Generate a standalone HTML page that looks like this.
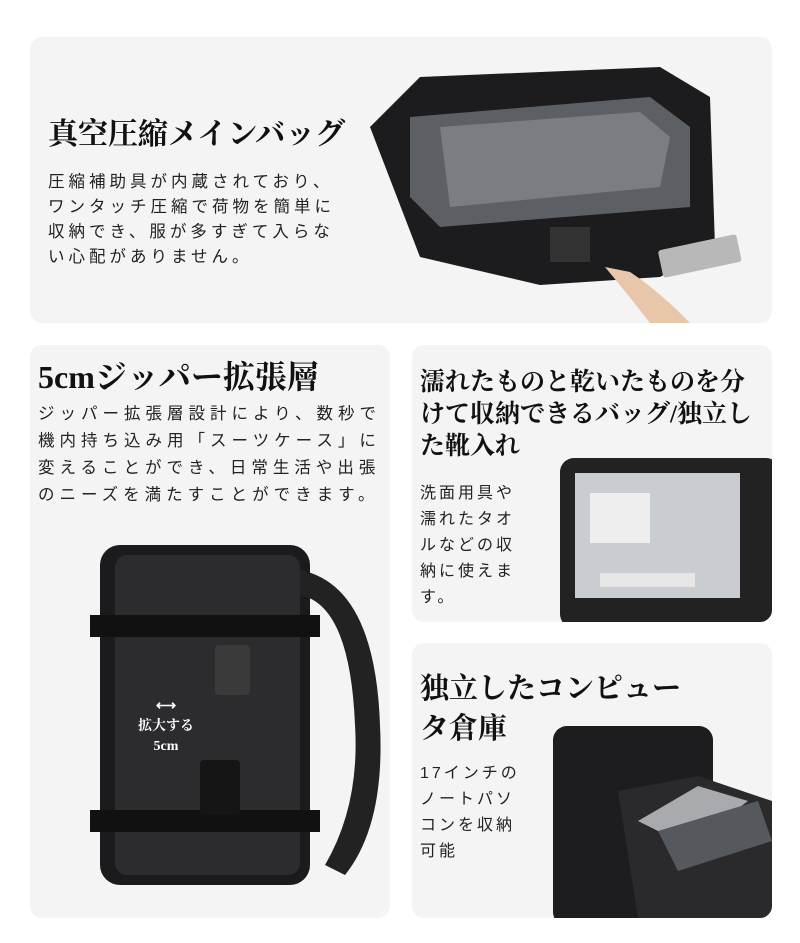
<!DOCTYPE html>
<html><head><meta charset="utf-8"><style>
*{margin:0;padding:0;box-sizing:border-box}
body{width:800px;height:943px;background:#fff;position:relative;overflow:hidden;font-family:"Liberation Serif","Noto Serif CJK SC","Noto Sans CJK JP",serif;color:#111}
.card{position:absolute;background:#f4f4f4;border-radius:12px;overflow:hidden}
.t{position:absolute;font-weight:bold;white-space:nowrap}
.b{position:absolute;font-family:"Liberation Sans","Noto Sans CJK JP",sans-serif;font-size:16.5px;letter-spacing:4px;white-space:nowrap;color:#222}
.abs{position:absolute}
</style></head><body>
<div class="card" style="left:30px;top:37px;width:742px;height:286px">
 <div class="t" style="left:18px;top:72px;font-size:30px">真空圧縮メインバッグ</div>
 <div class="b" style="left:18px;top:133px;line-height:25px">圧縮補助具が内蔵されており、<br>ワンタッチ圧縮で荷物を簡単に<br>収納でき、服が多すぎて入らな<br>い心配がありません。</div>
 <svg class="abs" style="left:330px;top:20px" width="412" height="266">
  <path d="M10 70 L60 20 L300 10 L350 40 L355 190 L300 220 L180 228 L60 200 Z" fill="#1c1c1e"/>
  <path d="M50 60 L290 40 L330 70 L330 150 L80 170 L50 140 Z" fill="#5c5f63"/>
  <path d="M80 70 L280 55 L310 80 L300 130 L90 150 Z" fill="#7a7d82"/>
  <rect x="190" y="170" width="40" height="35" fill="#333"/>
  <rect x="300" y="185" width="80" height="28" rx="3" fill="#b8b8b8" transform="rotate(-12 340 200)"/>
  <path d="M245 210 Q270 240 290 266 L330 266 Q300 235 270 215 Z" fill="#e8c6aa"/>
 </svg>
</div>
<div class="card" style="left:30px;top:345px;width:360px;height:573px">
 <div class="t" style="left:8px;top:7px;font-size:32px">5cmジッパー拡張層</div>
 <div class="b" style="left:8px;top:56px;line-height:27px;letter-spacing:5px">ジッパー拡張層設計により、数秒で<br>機内持ち込み用「スーツケース」に<br>変えることができ、日常生活や出張<br>のニーズを満たすことができます。</div>
 <svg class="abs" style="left:55px;top:180px" width="305" height="370">
  <rect x="15" y="20" width="210" height="340" rx="20" fill="#1b1b1d"/>
  <rect x="30" y="30" width="185" height="320" rx="12" fill="#2c2c2f"/>
  <path d="M215 45 Q290 60 295 200 Q300 300 260 350 L240 340 Q275 280 270 200 Q265 80 215 70 Z" fill="#222"/>
  <rect x="5" y="90" width="230" height="22" fill="#111"/>
  <rect x="5" y="285" width="230" height="22" fill="#111"/>
  <rect x="130" y="120" width="35" height="50" rx="4" fill="#3a3a3a"/>
  <rect x="115" y="235" width="40" height="55" rx="4" fill="#151515"/>
 </svg>
 <div class="abs" style="left:108px;top:352px;color:#fff;font-size:14px;font-weight:bold;text-align:center;line-height:20px;font-family:'Liberation Serif','Noto Serif CJK SC',serif">⟷<br>拡大する<br>5cm</div>
</div>
<div class="card" style="left:412px;top:345px;width:360px;height:277px">
 <div class="t" style="left:8px;top:22px;font-size:25px;line-height:32px">濡れたものと乾いたものを分<br>けて収納できるバッグ/独立し<br>た靴入れ</div>
 <div class="b" style="left:8px;top:136px;line-height:26px;font-size:16px;letter-spacing:3px">洗面用具や<br>濡れたタオ<br>ルなどの収<br>納に使えま<br>す。</div>
 <svg class="abs" style="left:128px;top:108px" width="232" height="170">
  <rect x="20" y="5" width="220" height="170" rx="14" fill="#222"/>
  <rect x="35" y="20" width="165" height="125" fill="#c9ccd0"/>
  <rect x="50" y="40" width="60" height="50" fill="#eee"/>
  <rect x="60" y="120" width="95" height="14" fill="#e6e6e6"/>
 </svg>
</div>
<div class="card" style="left:412px;top:643px;width:360px;height:275px">
 <div class="t" style="left:8px;top:26px;font-size:29px;line-height:40px">独立したコンピュー<br>タ倉庫</div>
 <div class="b" style="left:8px;top:118px;line-height:26px;font-size:16px;letter-spacing:3px">17インチの<br>ノートパソ<br>コンを収納<br>可能</div>
 <svg class="abs" style="left:136px;top:78px" width="224" height="197">
  <rect x="5" y="5" width="160" height="200" rx="14" fill="#1d1d1f"/>
  <path d="M70 70 L150 55 L224 80 L224 197 L90 197 Z" fill="#2a2a2c"/>
  <path d="M90 100 L150 65 L200 80 L140 125 Z" fill="#a8aaae"/>
  <path d="M110 110 L210 80 L224 120 L130 150 Z" fill="#55585c"/>
 </svg>
</div>
</body></html>
